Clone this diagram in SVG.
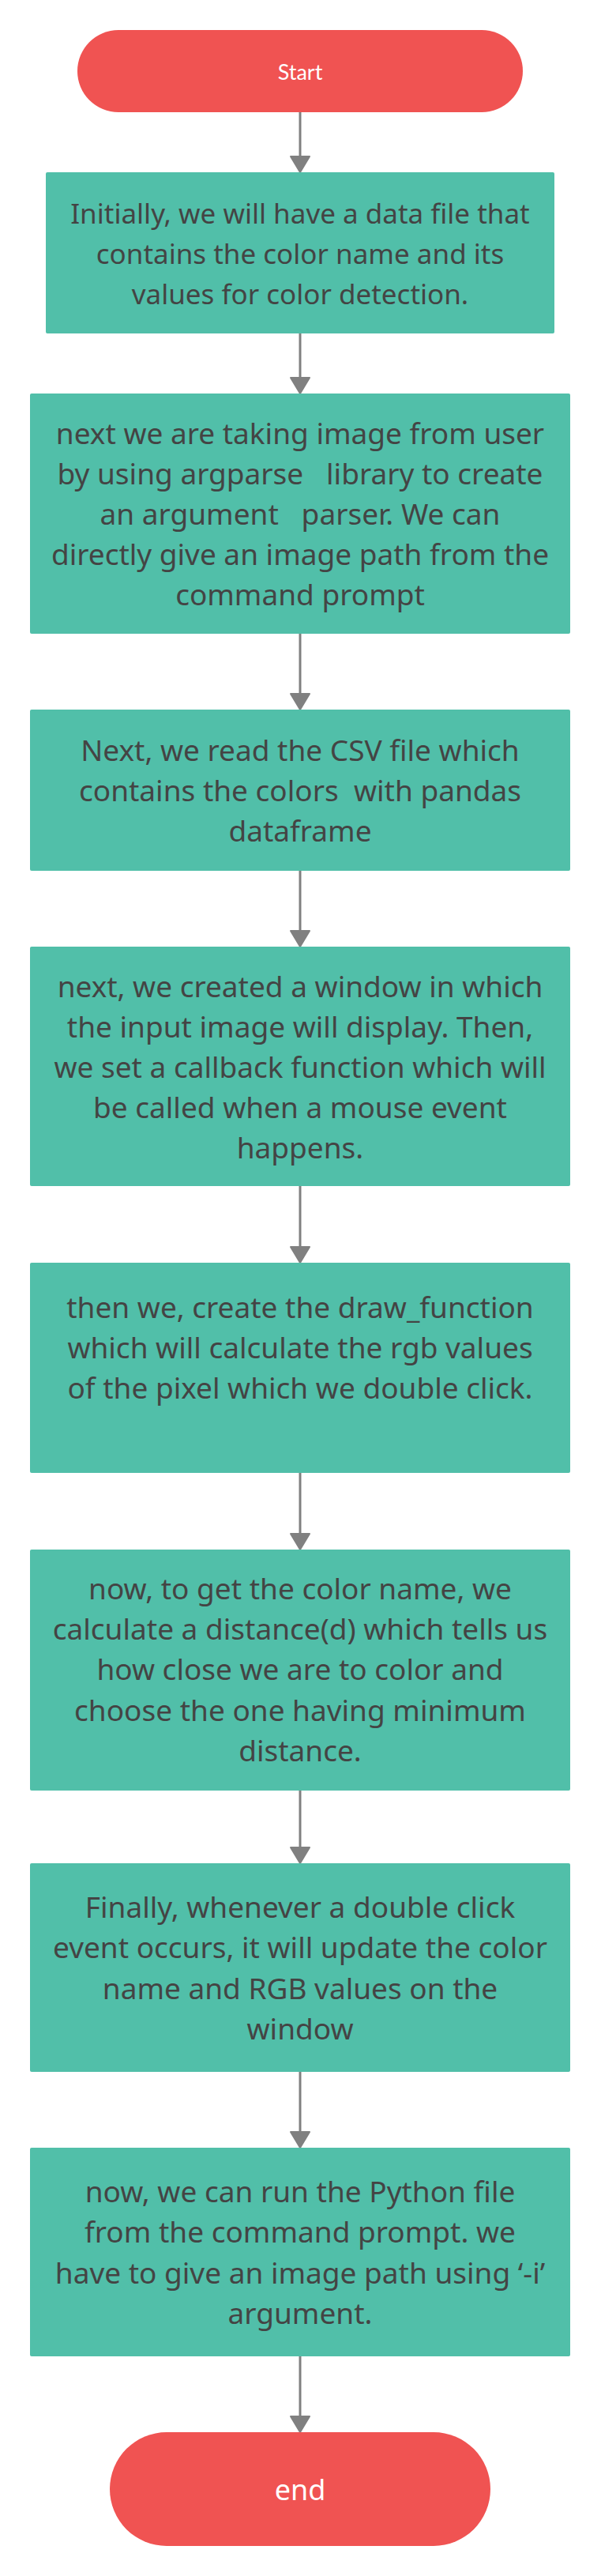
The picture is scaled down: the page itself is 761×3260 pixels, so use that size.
<svg xmlns="http://www.w3.org/2000/svg" width="761" height="3260" viewBox="0 0 761 3260">
<style>
.term{fill:#F05352}
.proc{fill:#51BFA9}
.t{font-family:"Noto Sans","Open Sans",sans-serif;font-size:37px;fill:#444444;text-anchor:middle;white-space:pre}
.t1{font-size:35px}
.st{font-family:Lato,"Noto Sans",sans-serif;font-size:27px;fill:#FFFFFF;text-anchor:middle}
.en{font-family:"Noto Sans","Open Sans",sans-serif;font-size:36px;fill:#FFFFFF;text-anchor:middle}
.c{fill:none;stroke:#808080;stroke-width:3}
</style>
<defs>
<marker id="ah" markerUnits="userSpaceOnUse" markerWidth="26" markerHeight="28" viewBox="-2 -14 26 28" refX="10" refY="0" orient="auto" overflow="visible">
<path d="M0,-12 L20,0 L0,12 Z" fill="#808080" stroke="#808080" stroke-width="2" stroke-linejoin="round"/>
</marker>
</defs>
<rect width="761" height="3260" fill="#FFFFFF"/>
<g id="connectors">
<path class="c" d="M380,142 V208" marker-end="url(#ah)"/>
<path class="c" d="M380,422 V488" marker-end="url(#ah)"/>
<path class="c" d="M380,802 V888" marker-end="url(#ah)"/>
<path class="c" d="M380,1102 V1188" marker-end="url(#ah)"/>
<path class="c" d="M380,1501 V1588" marker-end="url(#ah)"/>
<path class="c" d="M380,1864 V1951" marker-end="url(#ah)"/>
<path class="c" d="M380,2266 V2348" marker-end="url(#ah)"/>
<path class="c" d="M380,2622 V2708" marker-end="url(#ah)"/>
<path class="c" d="M380,2982 V3068" marker-end="url(#ah)"/>
</g>
<g id="start">
<rect class="term" x="98" y="38" width="564" height="104" rx="52" ry="52"/>
<text class="st" x="380" y="101">Start</text>
</g>
<g id="step1">
<rect class="proc" x="58" y="218" width="644" height="204" rx="2"/>
<text class="t t1" x="380" y="283">Initially, we will have a data file that</text>
<text class="t t1" x="380" y="334">contains the color name and its</text>
<text class="t t1" x="380" y="385">values for color detection.</text>
</g>
<g id="step2">
<rect class="proc" x="38" y="498" width="684" height="304" rx="2"/>
<text class="t" x="380" y="562">next we are taking image from user</text>
<text class="t" x="380" y="613" xml:space="preserve">by using argparse   library to create</text>
<text class="t" x="380" y="664" xml:space="preserve">an argument   parser. We can</text>
<text class="t" x="380" y="715">directly give an image path from the</text>
<text class="t" x="380" y="766">command prompt</text>
</g>
<g id="step3">
<rect class="proc" x="38" y="898" width="684" height="204" rx="2"/>
<text class="t" x="380" y="963">Next, we read the CSV file which</text>
<text class="t" x="380" y="1014" xml:space="preserve">contains the colors  with pandas</text>
<text class="t" x="380" y="1065">dataframe</text>
</g>
<g id="step4">
<rect class="proc" x="38" y="1198" width="684" height="303" rx="2"/>
<text class="t" x="380" y="1262">next, we created a window in which</text>
<text class="t" x="380" y="1313">the input image will display. Then,</text>
<text class="t" x="380" y="1364">we set a callback function which will</text>
<text class="t" x="380" y="1415">be called when a mouse event</text>
<text class="t" x="380" y="1466">happens.</text>
</g>
<g id="step5">
<rect class="proc" x="38" y="1598" width="684" height="266" rx="2"/>
<text class="t" x="380" y="1668">then we, create the draw_function</text>
<text class="t" x="380" y="1719">which will calculate the rgb values</text>
<text class="t" x="380" y="1770">of the pixel which we double click.</text>
</g>
<g id="step6">
<rect class="proc" x="38" y="1961" width="684" height="305" rx="2"/>
<text class="t" x="380" y="2024">now, to get the color name, we</text>
<text class="t" x="380" y="2075">calculate a distance(d) which tells us</text>
<text class="t" x="380" y="2126">how close we are to color and</text>
<text class="t" x="380" y="2178">choose the one having minimum</text>
<text class="t" x="380" y="2229">distance.</text>
</g>
<g id="step7">
<rect class="proc" x="38" y="2358" width="684" height="264" rx="2"/>
<text class="t" x="380" y="2427">Finally, whenever a double click</text>
<text class="t" x="380" y="2478">event occurs, it will update the color</text>
<text class="t" x="380" y="2530">name and RGB values on the</text>
<text class="t" x="380" y="2581">window</text>
</g>
<g id="step8">
<rect class="proc" x="38" y="2718" width="684" height="264" rx="2"/>
<text class="t" x="380" y="2787">now, we can run the Python file</text>
<text class="t" x="380" y="2838">from the command prompt. we</text>
<text class="t" x="380" y="2890">have to give an image path using ‘-i’</text>
<text class="t" x="380" y="2941">argument.</text>
</g>
<g id="end">
<rect class="term" x="139" y="3078" width="482" height="144" rx="72" ry="72"/>
<text class="en" x="380" y="3164">end</text>
</g>
</svg>
